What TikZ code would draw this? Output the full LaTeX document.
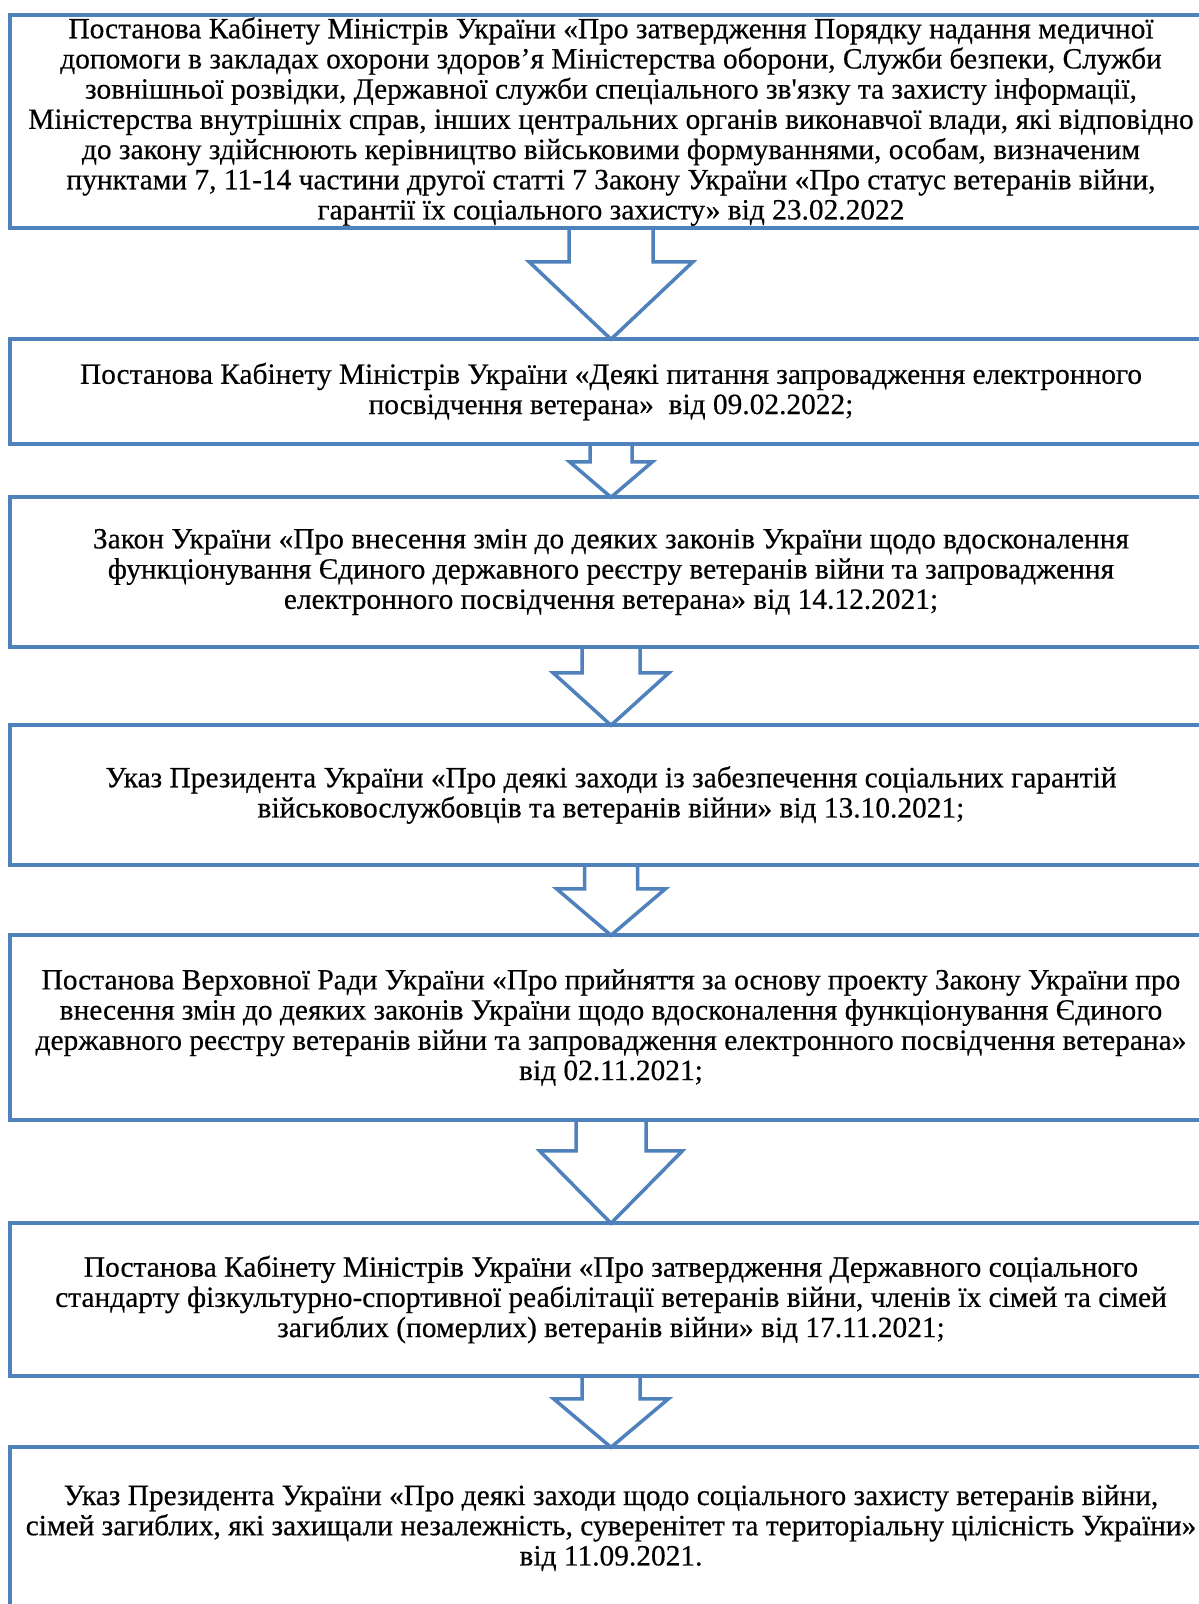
\documentclass[tikz,border=0pt]{standalone}
\usepackage{fontspec}
\setmainfont{Liberation Serif}
\newfontfamily\boxfont[FakeBold=0.4]{Liberation Serif}
\usetikzlibrary{calc}
\definecolor{wblue}{RGB}{79,129,189}
\newcommand\blockdown[5]{%
  \draw[barrow] ($(#1.south)+(-#3,0)$) -- ($(#1.south)+(-#3,#5)$) -- ($(#1.south)+(-#4,#5)$)
    -- ($(#2.north)+(0,2)$) -- ($(#1.south)+(#4,#5)$) -- ($(#1.south)+(#3,#5)$) -- ($(#1.south)+(#3,0)$);}
\begin{document}
\begin{tikzpicture}[x=1pt,y=-1pt,
  box/.style={draw=wblue, line width=3.5pt, rectangle, minimum width=1202pt, inner sep=0pt,
    align=center, font=\boxfont\fontsize{29.4}{30.2}\selectfont, text=black},
  barrow/.style={draw=wblue, line width=3.5pt, line join=miter}]
\useasboundingbox (0,0) rectangle (1199,1604);
\clip (0,0) rectangle (1199,1604);
\fill[white] (0,0) rectangle (1199,1604);
\node[box, minimum height=213pt] (b1) at (611,121.5) {Постанова Кабінету Міністрів України «Про затвердження Порядку надання медичної\\
допомоги в закладах охорони здоров’я Міністерства оборони, Служби безпеки, Служби\\
зовнішньої розвідки, Державної служби спеціального зв{\char"0027}язку та захисту інформації,\\
Міністерства внутрішніх справ, інших центральних органів виконавчої влади, які відповідно\\
до закону здійснюють керівництво військовими формуваннями, особам, визначеним\\
пунктами 7, 11-14 частини другої статті 7 Закону України «Про статус ветеранів війни,\\
гарантії їх соціального захисту» від 23.02.2022};
\node[box, minimum height=105pt] (b2) at (611,391.5) {Постанова Кабінету Міністрів України «Деякі питання запровадження електронного\\
посвідчення ветерана»\ \ від 09.02.2022;};
\node[box, minimum height=150pt] (b3) at (611,572) {Закон України «Про внесення змін до деяких законів України щодо вдосконалення\\
функціонування Єдиного державного реєстру ветеранів війни та запровадження\\
електронного посвідчення ветерана» від 14.12.2021;};
\node[box, minimum height=140pt] (b4) at (611,795) {Указ Президента України «Про деякі заходи із забезпечення соціальних гарантій\\
військовослужбовців та ветеранів війни» від 13.10.2021;};
\node[box, minimum height=185pt] (b5) at (611,1027.5) {Постанова Верховної Ради України «Про прийняття за основу проекту Закону України про\\
внесення змін до деяких законів України щодо вдосконалення функціонування Єдиного\\
державного реєстру ветеранів війни та запровадження електронного посвідчення ветерана»\\
від 02.11.2021;};
\node[box, minimum height=153pt] (b6) at (611,1299.5) {Постанова Кабінету Міністрів України «Про затвердження Державного соціального\\
стандарту фізкультурно-спортивної реабілітації ветеранів війни, членів їх сімей та сімей\\
загиблих (померлих) ветеранів війни» від 17.11.2021;};
\node[box, minimum height=162pt] (b7) at (611,1528) {Указ Президента України «Про деякі заходи щодо соціального захисту ветеранів війни,\\
сімей загиблих, які захищали незалежність, суверенітет та територіальну цілісність України»\\
від 11.09.2021.};
\blockdown{b1}{b2}{42}{82}{32}
\blockdown{b2}{b3}{21}{41.5}{16}
\blockdown{b3}{b4}{29}{58}{24}
\blockdown{b4}{b5}{26.5}{54.5}{22}
\blockdown{b5}{b6}{35}{71.5}{29}
\blockdown{b6}{b7}{29}{57.5}{21}
\end{tikzpicture}
\end{document}
